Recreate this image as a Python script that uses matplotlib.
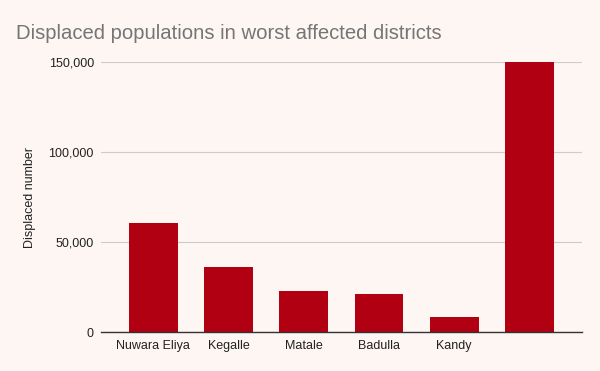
import matplotlib
matplotlib.use("Agg")
import matplotlib.pyplot as plt
from matplotlib.ticker import FuncFormatter

# data
districts = ["Nuwara Eliya", "Kegalle", "Matale", "Badulla", "Kandy", ""]
displaced = [60500, 36100, 22800, 21100, 8300, 150000]

bg = "#fdf6f3"
bar_color = "#b00012"

plt.rcParams["font.family"] = ["Liberation Sans", "DejaVu Sans"]

fig = plt.figure(figsize=(6, 3.71), dpi=100, facecolor=bg)
ax = fig.add_axes([0.168, 0.105, 0.802, 0.728])
ax.set_facecolor(bg)

x = range(len(districts))
ax.bar(x, displaced, width=0.65, color=bar_color, zorder=3)

ax.set_xlim(-0.70, len(districts) - 0.30)
ax.set_ylim(0, 150000)
ax.set_yticks([0, 50000, 100000, 150000])
ax.yaxis.set_major_formatter(FuncFormatter(lambda v, p: f"{int(v):,}"))
ax.set_xticks(list(x))
ax.set_xticklabels(districts)

ax.grid(axis="y", color="#cccccc", linewidth=0.8, zorder=0)
for s in ["top", "right", "left"]:
    ax.spines[s].set_visible(False)
ax.spines["bottom"].set_color("#333333")
ax.spines["bottom"].set_linewidth(1)
ax.spines["bottom"].set_zorder(4)
ax.tick_params(axis="both", length=0, labelsize=9, colors="#222222")
ax.tick_params(axis="y", pad=5)
ax.tick_params(axis="x", pad=6)

ax.set_ylabel("Displaced number", fontsize=9, color="#222222", labelpad=9)
fig.text(0.027, 0.91, "Displaced populations in worst affected districts",
         fontsize=14.6, color="#757575", va="center", ha="left")

fig.savefig("out.png", dpi=100, facecolor=bg)
